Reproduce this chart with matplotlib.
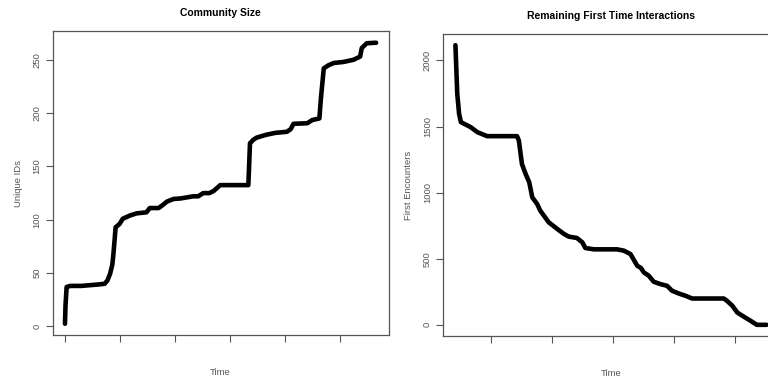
import numpy as np
import matplotlib.pyplot as plt

plt.rcParams['font.family'] = ['Liberation Sans', 'DejaVu Sans']

# community size over time (x in tick units)
comm_t = [0.0, 0.01, 0.03, 0.1, 0.3, 0.64, 0.72, 0.77, 0.82, 0.86, 0.88, 0.92, 0.99, 1.05,
          1.18, 1.3, 1.48, 1.54, 1.7, 1.78, 1.85, 1.97, 2.1, 2.33, 2.42, 2.51, 2.62, 2.70,
          2.82, 3.33, 3.36, 3.42, 3.48, 3.64, 3.82, 4.03, 4.10, 4.15, 4.4, 4.49, 4.62,
          4.65, 4.70, 4.79, 4.88, 5.06, 5.24, 5.36, 5.39, 5.48, 5.65]
comm_n = [2.5, 20, 37, 38, 38, 39.5, 40, 43, 49.5, 58, 68, 93, 96, 101,
          104, 106, 107, 111, 111, 114, 117, 119.5, 120, 122, 122, 125, 125, 127,
          132.5, 132.5, 171.7, 175, 177, 179.5, 181.5, 182.5, 185, 190, 190.5, 193.5, 195,
          215, 242, 245, 247, 248, 250, 253, 261, 265.5, 266]

# remaining first time interactions
enc_t = [0.42, 0.45, 0.48, 0.51, 0.67, 0.78, 0.94, 1.43, 1.46, 1.51, 1.57, 1.63, 1.68,
         1.76, 1.81, 1.87, 1.95, 2.09, 2.20, 2.28, 2.41, 2.50, 2.55, 2.69, 3.07, 3.18,
         3.29, 3.40, 3.46, 3.51, 3.59, 3.67, 3.78, 3.89, 3.97, 4.08, 4.19, 4.30, 4.82,
         4.87, 4.96, 5.04, 5.15, 5.26, 5.36, 5.52]
enc_n = [2115, 1748, 1596, 1533, 1495, 1457, 1427, 1427, 1394, 1217, 1142, 1078, 964,
         914, 864, 826, 775, 725, 687, 667, 657, 624, 581, 571, 571, 561,
         535, 447, 430, 396, 371, 326, 308, 295, 258, 237, 220, 199, 199,
         182, 144, 93, 61, 30, 0, 0]

grey = '#555555'

fig = plt.figure(figsize=(7.68, 3.83), dpi=100)
ax1 = fig.add_axes([0.0684, 0.1253, 0.4375, 0.7925])
ax2 = fig.add_axes([0.5768, 0.1227, 0.4375, 0.7885])


def style(ax, title, ylabel, xticks, yticks):
    ax.margins(x=0.04, y=0.04)
    ax.set_xticks(xticks)
    ax.set_xticklabels([''] * len(xticks))
    ax.set_yticks(yticks)
    ax.set_yticklabels([str(v) for v in yticks], rotation=90, va='center',
                       fontsize=6.8, color=grey)
    ax.tick_params(direction='out', length=5, width=0.8, color=grey, pad=3)
    for s in ax.spines.values():
        s.set_color(grey)
        s.set_linewidth(0.9)
    ax.set_title(title, fontsize=7.5, fontweight='bold', pad=11)
    ax.set_xlabel('Time', fontsize=6.8, color=grey, labelpad=16)
    ax.set_ylabel(ylabel, fontsize=6.8, color=grey, labelpad=7)


ax1.plot(comm_t, comm_n, color='black', lw=3.3, solid_joinstyle='round', solid_capstyle='round')
style(ax1, 'Community Size', 'Unique IDs', [0, 1, 2, 3, 4, 5], [0, 50, 100, 150, 200, 250])

ax2.plot(enc_t, enc_n, color='black', lw=3.3, solid_joinstyle='round', solid_capstyle='round')
style(ax2, 'Remaining First Time Interactions', 'First Encounters', [1, 2, 3, 4, 5],
      [0, 500, 1000, 1500, 2000])

fig.savefig('out.png', dpi=100)
